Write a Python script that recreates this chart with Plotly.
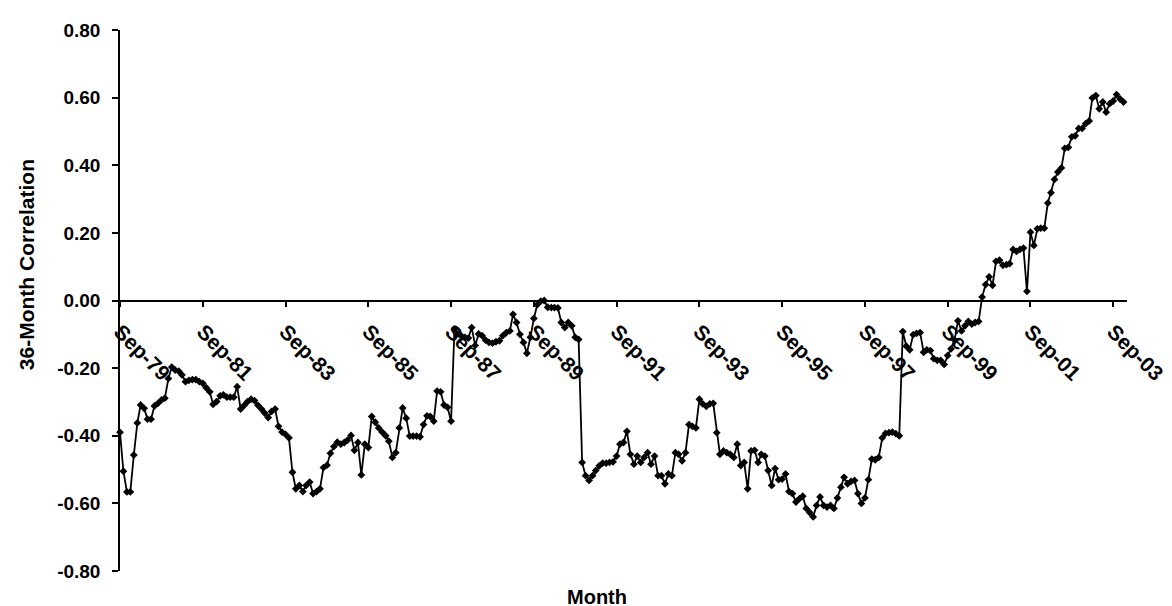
import pandas as pd
import plotly.graph_objects as go

# 36-month rolling correlation, monthly from Sep-79
corr_79_81 = [-0.39, -0.505, -0.566, -0.566, -0.457, -0.362, -0.309, -0.319, -0.351, -0.351, -0.312, -0.304,
              -0.294, -0.289, -0.231, -0.197, -0.206, -0.209, -0.22, -0.24, -0.236, -0.234, -0.234, -0.24]
corr_81_83 = [-0.245, -0.258, -0.27, -0.307, -0.299, -0.282, -0.279, -0.286, -0.286, -0.286, -0.255, -0.321,
              -0.31, -0.299, -0.292, -0.296, -0.31, -0.321, -0.333, -0.346, -0.328, -0.321, -0.372, -0.389]
corr_83_85 = [-0.396, -0.406, -0.508, -0.557, -0.547, -0.565, -0.547, -0.537, -0.571, -0.565, -0.557, -0.494,
              -0.487, -0.452, -0.432, -0.419, -0.425, -0.42, -0.413, -0.399, -0.443, -0.42, -0.516, -0.425]
corr_85_87 = [-0.435, -0.343, -0.36, -0.377, -0.389, -0.40, -0.416, -0.464, -0.45, -0.377, -0.318, -0.348,
              -0.401, -0.401, -0.401, -0.403, -0.367, -0.341, -0.343, -0.357, -0.268, -0.27, -0.309, -0.316]
corr_87_89 = [-0.357, -0.085, -0.099, -0.105, -0.109, -0.111, -0.08, -0.133, -0.099, -0.104, -0.117, -0.124,
              -0.126, -0.122, -0.119, -0.104, -0.095, -0.09, -0.041, -0.065, -0.10, -0.124, -0.156, -0.109]
corr_89_91 = [-0.053, -0.012, -0.002, 0.0, -0.02, -0.021, -0.021, -0.022, -0.065, -0.08, -0.065, -0.075,
              -0.109, -0.115, -0.479, -0.518, -0.532, -0.518, -0.503, -0.489, -0.481, -0.481, -0.479, -0.477]
corr_91_93 = [-0.46, -0.425, -0.42, -0.387, -0.455, -0.484, -0.46, -0.479, -0.464, -0.45, -0.484, -0.46,
              -0.518, -0.518, -0.542, -0.513, -0.518, -0.45, -0.455, -0.474, -0.45, -0.367, -0.372, -0.377]
corr_93_95 = [-0.292, -0.306, -0.313, -0.306, -0.304, -0.391, -0.455, -0.445, -0.45, -0.455, -0.464, -0.425,
              -0.488, -0.479, -0.557, -0.445, -0.443, -0.479, -0.455, -0.46, -0.503, -0.547, -0.497, -0.53]
corr_95_97 = [-0.528, -0.513, -0.565, -0.571, -0.596, -0.586, -0.579, -0.615, -0.627, -0.64, -0.606, -0.581,
              -0.606, -0.611, -0.606, -0.615, -0.584, -0.552, -0.523, -0.542, -0.535, -0.532, -0.571, -0.60]
corr_97_99 = [-0.584, -0.53, -0.469, -0.471, -0.464, -0.406, -0.393, -0.391, -0.389, -0.394, -0.40, -0.092,
              -0.135, -0.146, -0.101, -0.097, -0.095, -0.153, -0.146, -0.148, -0.172, -0.177, -0.177, -0.189]
corr_99_01 = [-0.163, -0.143, -0.117, -0.06, -0.09, -0.075, -0.062, -0.07, -0.065, -0.062, 0.01, 0.047,
              0.07, 0.045, 0.116, 0.119, 0.104, 0.106, 0.109, 0.151, 0.145, 0.151, 0.155, 0.027]
corr_01_03 = [0.202, 0.163, 0.212, 0.214, 0.214, 0.288, 0.319, 0.358, 0.38, 0.392, 0.45, 0.453,
              0.484, 0.487, 0.509, 0.509, 0.523, 0.531, 0.599, 0.606, 0.567, 0.587, 0.557, 0.582]
corr_03 = [0.59, 0.609, 0.596, 0.587]

corr = (corr_79_81 + corr_81_83 + corr_83_85 + corr_85_87 + corr_87_89 + corr_89_91 +
        corr_91_93 + corr_93_95 + corr_95_97 + corr_97_99 + corr_99_01 + corr_01_03 + corr_03)

months = pd.date_range("1979-09-01", periods=len(corr), freq="MS")

tick_years = [1979, 1981, 1983, 1985, 1987, 1989, 1991, 1993, 1995, 1997, 1999, 2001, 2003]
tick_dates = [pd.Timestamp(year=y, month=9, day=1) for y in tick_years]
tick_text = [d.strftime("%b-%y") for d in tick_dates]

y_ticks = [0.8, 0.6, 0.4, 0.2, 0.0, -0.2, -0.4, -0.6, -0.8]
y_text = ["0.80", "0.60", "0.40", "0.20", "0.00", "-0.20", "-0.40", "-0.60", "-0.80"]

FONT = "Liberation Sans, Arial, sans-serif"

fig = go.Figure()
fig.add_trace(go.Scatter(
    x=months, y=corr, mode="lines+markers",
    line=dict(color="black", width=1.8),
    marker=dict(symbol="diamond", size=6, color="black"),
    cliponaxis=False, showlegend=False,
))

fig.update_layout(
    width=1172, height=606,
    margin=dict(l=112, r=46, t=15, b=43),
    paper_bgcolor="white", plot_bgcolor="white",
    font=dict(family=FONT, color="black"),
    xaxis=dict(
        type="date", range=["1979-09-01", "2004-01-01"],
        anchor="free", position=0.5,
        showline=True, linecolor="black", linewidth=1.5,
        ticks="outside", ticklen=6, tickwidth=1.5, tickcolor="black",
        tickvals=tick_dates, ticktext=tick_text, tickangle=45,
        tickfont=dict(family=FONT, size=21, weight="bold", color="black"),
        ticklabelstandoff=4,
        showgrid=False, zeroline=False,
    ),
    yaxis=dict(
        range=[-0.8, 0.8],
        showline=True, linecolor="black", linewidth=1.5,
        ticks="outside", ticklen=6, tickwidth=1.5, tickcolor="black",
        tickvals=y_ticks, ticktext=y_text,
        tickfont=dict(family=FONT, size=19, weight="bold", color="black"),
        ticklabelstandoff=8,
        showgrid=False, zeroline=False,
    ),
    annotations=[
        dict(text="Month", xref="paper", yref="paper", x=0.474, y=-0.048,
             xanchor="center", yanchor="middle", showarrow=False,
             font=dict(family=FONT, size=20, weight="bold", color="black")),
        dict(text="36-Month Correlation", xref="paper", yref="paper",
             x=-0.093, y=0.566, textangle=-90,
             xanchor="center", yanchor="middle", showarrow=False,
             font=dict(family=FONT, size=21, weight="bold", color="black")),
    ],
)

fig.write_html("out.html")
